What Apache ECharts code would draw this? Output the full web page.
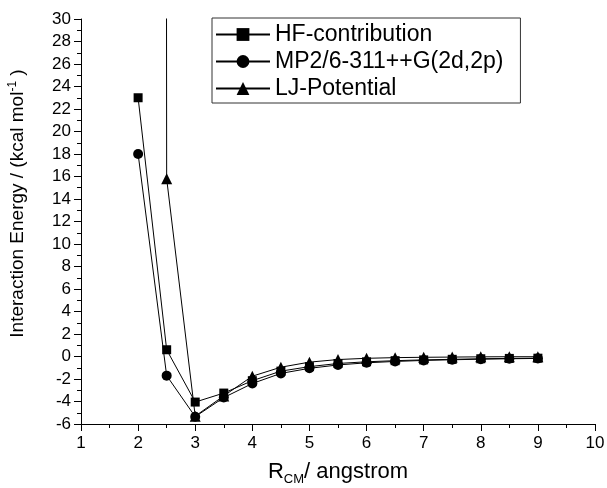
<!DOCTYPE html>
<html>
<head>
<meta charset="utf-8">
<script src="https://cdn.jsdelivr.net/npm/echarts@6/dist/echarts.min.js"></script>
<style>html,body{margin:0;padding:0;background:#fff;}#c{width:607px;height:488px;}</style>
</head>
<body>
<div id="c"></div>
<script>
var rValues = [2, 2.5, 3, 3.5, 4, 4.5, 5, 5.5, 6, 6.5, 7, 7.5, 8, 8.5, 9];
var hfContribution = [23, 0.6, -4.05, -3.25, -2.15, -1.3, -0.9, -0.62, -0.47, -0.37, -0.3, -0.25, -0.2, -0.17, -0.15];
var mp2Values = [18, -1.7, -5.35, -3.65, -2.4, -1.5, -1.05, -0.75, -0.56, -0.44, -0.35, -0.29, -0.24, -0.2, -0.17];
var ljValues = [3000, 15.8, -5.3, -3.5, -1.75, -0.95, -0.5, -0.27, -0.16, -0.1, -0.07, -0.05, -0.03, -0.02, -0.02];
var seriesNames = ['HF-contribution', 'MP2/6-311++G(2d,2p)', 'LJ-Potential'];

function pairs(ys) { return rValues.map(function (x, i) { return [x, ys[i]]; }); }

var FONT = 'Liberation Sans, Arial, sans-serif';
var chart = echarts.init(document.getElementById('c'), null, { renderer: 'canvas' });
function mkSeries(name, ys, sym, size) {
  return {
    name: name, type: 'line', data: pairs(ys), symbol: sym, symbolSize: size,
    clip: true, showAllSymbol: true,
    lineStyle: { color: '#000', width: 1 },
    itemStyle: { color: '#000', borderWidth: 0 },
    emphasis: { disabled: true }, animation: false
  };
}
chart.setOption({
  animation: false,
  textStyle: { fontFamily: FONT },
  grid: { left: 81, right: 12, top: 19, bottom: 64, containLabel: false, outerBoundsMode: 'none' },
  legend: {
    orient: 'vertical', left: 212, top: 18,
    padding: [5, 17, 3, 3],
    borderColor: '#333', borderWidth: 1,
    itemWidth: 54, itemHeight: 16, itemGap: 4,
    textStyle: { fontFamily: FONT, fontSize: 23, color: '#000', lineHeight: 23 },
    data: seriesNames
  },
  xAxis: {
    type: 'value', min: 1, max: 10, interval: 1,
    name: '{r|R}{s|CM}{r|/ angstrom}', nameLocation: 'middle', nameGap: 33,
    nameTextStyle: { rich: {
      r: { fontFamily: FONT, fontSize: 22, color: '#000' },
      s: { fontFamily: FONT, fontSize: 13, color: '#000', verticalAlign: 'bottom', padding: [16, 0, 0, 0] }
    } },
    axisLine: { onZero: false, lineStyle: { color: '#000', width: 1 } },
    axisTick: { inside: false, length: 7, lineStyle: { color: '#000' } },
    minorTick: { show: true, splitNumber: 2, length: 4, lineStyle: { color: '#000' } },
    splitLine: { show: false },
    axisLabel: { color: '#000', fontSize: 17, fontFamily: FONT, margin: 11 }
  },
  yAxis: {
    type: 'value', min: -6, max: 30, interval: 2,
    name: '{r|Interaction Energy / (kcal mol}{s|-1}{r| )}', nameLocation: 'middle', nameGap: 52,
    nameTextStyle: { padding: [0, 0, 0, 36], rich: {
      r: { fontFamily: FONT, fontSize: 19, color: '#000' },
      s: { fontFamily: FONT, fontSize: 12, color: '#000', verticalAlign: 'top', padding: [0, 0, 10, 0] }
    } },
    axisLine: { show: true, onZero: false, lineStyle: { color: '#000', width: 1 } },
    axisTick: { show: true, inside: false, length: 7, lineStyle: { color: '#000' } },
    minorTick: { show: true, splitNumber: 2, length: 4, lineStyle: { color: '#000' } },
    splitLine: { show: false },
    axisLabel: { color: '#000', fontSize: 17, fontFamily: FONT, margin: 10 }
  },
  series: [
    mkSeries(seriesNames[0], hfContribution, 'rect', 9),
    mkSeries(seriesNames[1], mp2Values, 'circle', 10),
    mkSeries(seriesNames[2], ljValues, 'triangle', 11)
  ]
});
</script>
</body>
</html>
